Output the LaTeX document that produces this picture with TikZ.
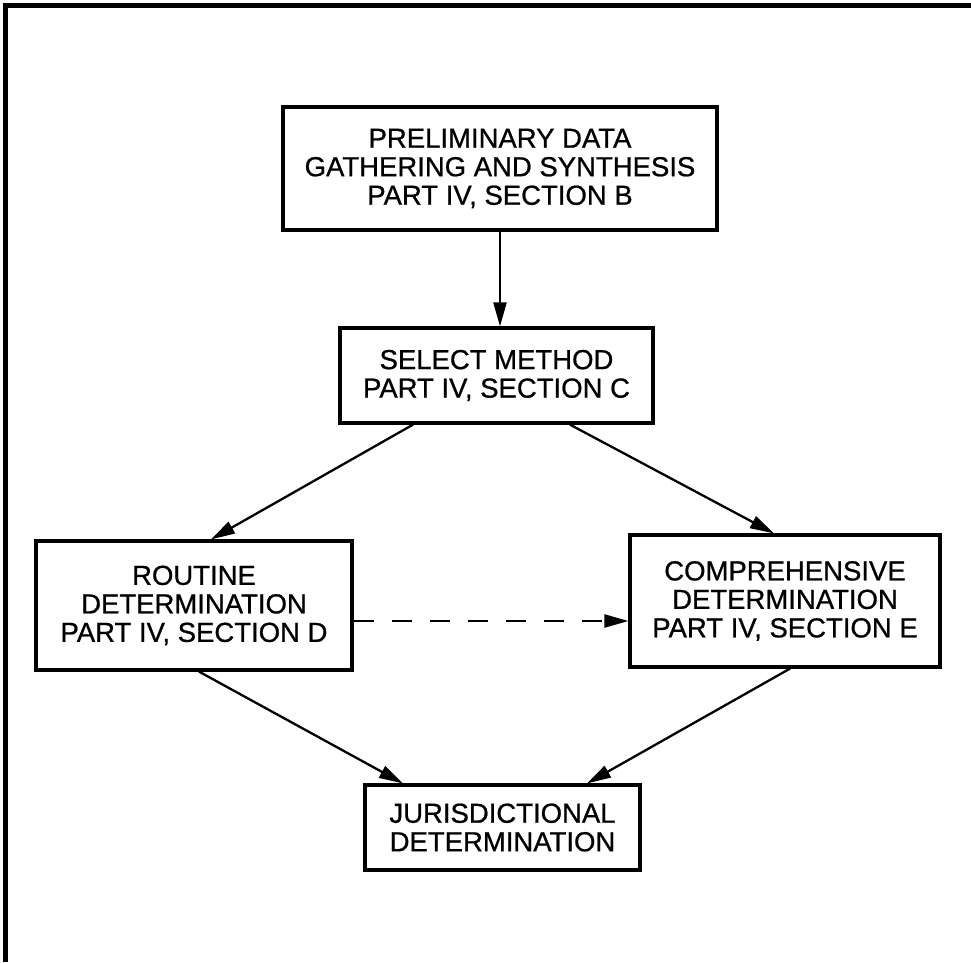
\documentclass[tikz,border=0pt]{standalone}
\usepackage{fontspec}
\setmainfont{Liberation Sans}
\newfontfamily\diafont{Liberation Sans}[FakeBold=0.8]
\usetikzlibrary{arrows.meta}
\begin{document}
\begin{tikzpicture}[x=1pt,y=-1pt,
  box/.style={draw,line width=3.2pt,align=center,inner sep=0pt,
    font=\diafont\fontsize{27.5}{28.5}\selectfont},
  arr/.style={line width=2.3pt,-{Triangle[length=24pt,width=13pt]}},
  frameline/.style={line width=5pt}]
\useasboundingbox (0,0) rectangle (971,962);
\coordinate (fTL) at (5,5.5);
\coordinate (fTR) at (971,5.5);
\coordinate (fBL) at (5,962);
\draw[frameline] (fTR) -- (fTL) -- (fBL);
\node[box,minimum width=434pt,minimum height=123pt] (A) at (500,168.5)
  {PRELIMINARY DATA\\GATHERING AND SYNTHESIS\\PART IV, SECTION B};
\node[box,minimum width=313pt,minimum height=95pt] (B) at (496.5,375.5)
  {SELECT METHOD\\PART IV, SECTION C};
\node[box,minimum width=316pt,minimum height=129pt] (R) at (194,605.5)
  {ROUTINE\\DETERMINATION\\PART IV, SECTION D};
\node[box,minimum width=310pt,minimum height=132pt] (C) at (785,601)
  {COMPREHENSIVE\\DETERMINATION\\PART IV, SECTION E};
\node[box,minimum width=275pt,minimum height=85pt] (J) at (502.5,827.5)
  {JURISDICTIONAL\\DETERMINATION};
\draw[arr] (A.south) -- (A.south |- B.north);
\draw[arr] ([xshift=-83.5pt]B.south) -- ([xshift=17pt]R.north);
\draw[arr] ([xshift=73.5pt]B.south) -- ([xshift=-11pt]C.north);
\draw[arr] ([xshift=5pt]R.south) -- ([xshift=-99.5pt]J.north);
\draw[arr] ([xshift=5pt]C.south) -- ([xshift=84.5pt]J.north);
\draw[arr,dash pattern=on 20pt off 18pt] ([yshift=-15.5pt]R.east) -- ([yshift=-20pt]C.west);
\end{tikzpicture}
\end{document}
